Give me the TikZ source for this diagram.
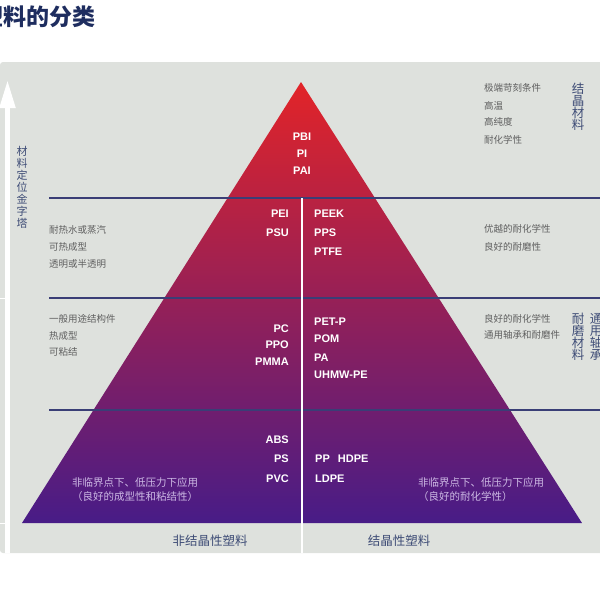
\documentclass[tikz,border=0pt]{standalone}
\usepackage{fontspec}
\usepackage{tikz}
\usetikzlibrary{arrows.meta}
\newfontfamily\cjk{Noto Sans CJK SC}
\newfontfamily\latfont{Liberation Sans}
\definecolor{panelgray}{RGB}{222,225,221}
\definecolor{rulenavy}{RGB}{58,62,118}
\definecolor{textnavy}{RGB}{62,76,118}
\definecolor{titlenavy}{RGB}{30,45,95}
\definecolor{descgray}{RGB}{95,95,95}
\definecolor{pyrtop}{RGB}{226,36,40}
\definecolor{pyrmid}{RGB}{155,28,72}
\definecolor{pyrbot}{RGB}{72,28,135}
\definecolor{lavender}{RGB}{205,185,228}

\begin{document}
\begin{tikzpicture}[x=1pt,y=-1pt]
		\tikzstyle{polymer}=[font=\latfont\bfseries\fontsize{11}{13}\selectfont, text=white, inner sep=0pt]
		\tikzstyle{desc}=[font=\cjk\fontsize{9.5}{11}\selectfont, text=descgray, anchor=west, inner sep=0pt]
		\tikzstyle{note}=[font=\cjk\fontsize{10.5}{12}\selectfont, text=lavender, anchor=west, inner sep=0pt]
		\tikzstyle{vlabel}=[font=\cjk\fontsize{12.5}{12}\selectfont, text=textnavy, align=center, inner sep=0pt]
		\tikzstyle{axis label}=[font=\cjk\fontsize{12.5}{14}\selectfont, text=textnavy, inner sep=0pt]
		\tikzstyle{rule}=[draw=rulenavy, line width=1.3pt]
		\useasboundingbox (0,0) rectangle (600,600);
		
		% Draw the background panel
		\fill[panelgray, rounded corners=3pt] (0,62) rectangle (604,553);
		\foreach \y in {298,523}
		\draw[white, line width=1pt] (0,\y) -- (5,\y);
		
		% Draw the title
		\node[font=\cjk\bfseries\fontsize{23}{26}\selectfont, text=titlenavy, anchor=west, inner sep=0pt] (title) at (-20,17) {塑料的分类};
		
		% Draw the arrow on the left
		\coordinate (arrow-foot) at (7.5,553);
		\coordinate (arrow-tip) at (7.5,80);
		\draw[white, line width=5pt, -{Triangle[width=15pt,length=28pt]}] (arrow-foot) -- (arrow-tip);
		\node[font=\cjk\fontsize{11}{12.1}\selectfont, text=textnavy, align=center, inner sep=0pt] (pyramid-label) at (22,187.5) {材\\料\\定\\位\\金\\字\\塔};
		
		% Draw the pyramid
		\shade[top color=pyrtop, middle color=pyrmid, bottom color=pyrbot] (301,82) -- (582,523) -- (22,523) -- cycle;
		
		% Draw the layer rules
		\foreach \y in {198,298,410}
		\draw[rule] (49,\y) -- (600,\y);
		\draw[white, line width=1.3pt] (302,198) -- (302,553);
		
		% Draw the top layer names
		\foreach \y/\name [count=\i] in {137/PBI,154/PI,171/PAI}
		\node[polymer] (T-\i) at (302,\y) {\name};
		
		% Draw the amorphous names (left column)
		\foreach \y/\name [count=\i] in {214/PEI,233/PSU}
		\node[polymer, anchor=east] (A2-\i) at (289,\y) {\name};
		\foreach \y/\name [count=\i] in {329/PC,345/PPO,362/PMMA}
		\node[polymer, anchor=east] (A3-\i) at (289,\y) {\name};
		\foreach \y/\name [count=\i] in {440/ABS,459/PS,479/PVC}
		\node[polymer, anchor=east] (A4-\i) at (289,\y) {\name};
		
		% Draw the crystalline names (right column)
		\foreach \y/\name [count=\i] in {214/PEEK,233/PPS,252/PTFE}
		\node[polymer, anchor=west] (C2-\i) at (314,\y) {\name};
		\foreach \y/\name [count=\i] in {322/PET-P,339/POM,358/PA,375/UHMW-PE}
		\node[polymer, anchor=west] (C3-\i) at (314,\y) {\name};
		\node[polymer, anchor=west] (C4-1) at (315,459) {PP\hspace{8pt}HDPE};
		\node[polymer, anchor=west] (C4-2) at (315,479) {LDPE};
		
		% Annotate the layers on the left
		\foreach \y/\txt [count=\i] in {230/耐热水或蒸汽,247/可热成型,264/透明或半透明}
		\node[desc] (L2-\i) at (49,\y) {\txt};
		\foreach \y/\txt [count=\i] in {319/一般用途结构件,336/热成型,352/可粘结}
		\node[desc] (L3-\i) at (49,\y) {\txt};
		
		% Annotate the layers on the right
		\foreach \y/\txt [count=\i] in {88/极端苛刻条件,106/高温,122/高纯度,140/耐化学性}
		\node[desc] (R1-\i) at (484,\y) {\txt};
		\foreach \y/\txt [count=\i] in {229/优越的耐化学性,247/良好的耐磨性}
		\node[desc] (R2-\i) at (484,\y) {\txt};
		\foreach \y/\txt [count=\i] in {319/良好的耐化学性,335/通用轴承和耐磨件}
		\node[desc] (R3-\i) at (484,\y) {\txt};
		
		% Vertical labels
		\node[vlabel] (crystal) at (578,106.5) {结\\晶\\材\\料};
		\node[vlabel] (wear) at (578,336.5) {耐\\磨\\材\\料};
		\node[vlabel] (bearing) at (596,336.5) {通\\用\\轴\\承};
		
		% Notes at the base of the pyramid
		\node[note] (N-1) at (72,482) {非临界点下、低压力下应用};
		\node[note] (N-2) at (72,497) {（良好的成型性和粘结性）};
		\node[note] (N-3) at (418,482) {非临界点下、低压力下应用};
		\node[note] (N-4) at (418,497) {（良好的耐化学性）};
		
		% Label the two columns
		\node[axis label] (amorphous) at (210,541) {非结晶性塑料};
		\node[axis label] (crystalline) at (399,541) {结晶性塑料};
\end{tikzpicture}
\end{document}
